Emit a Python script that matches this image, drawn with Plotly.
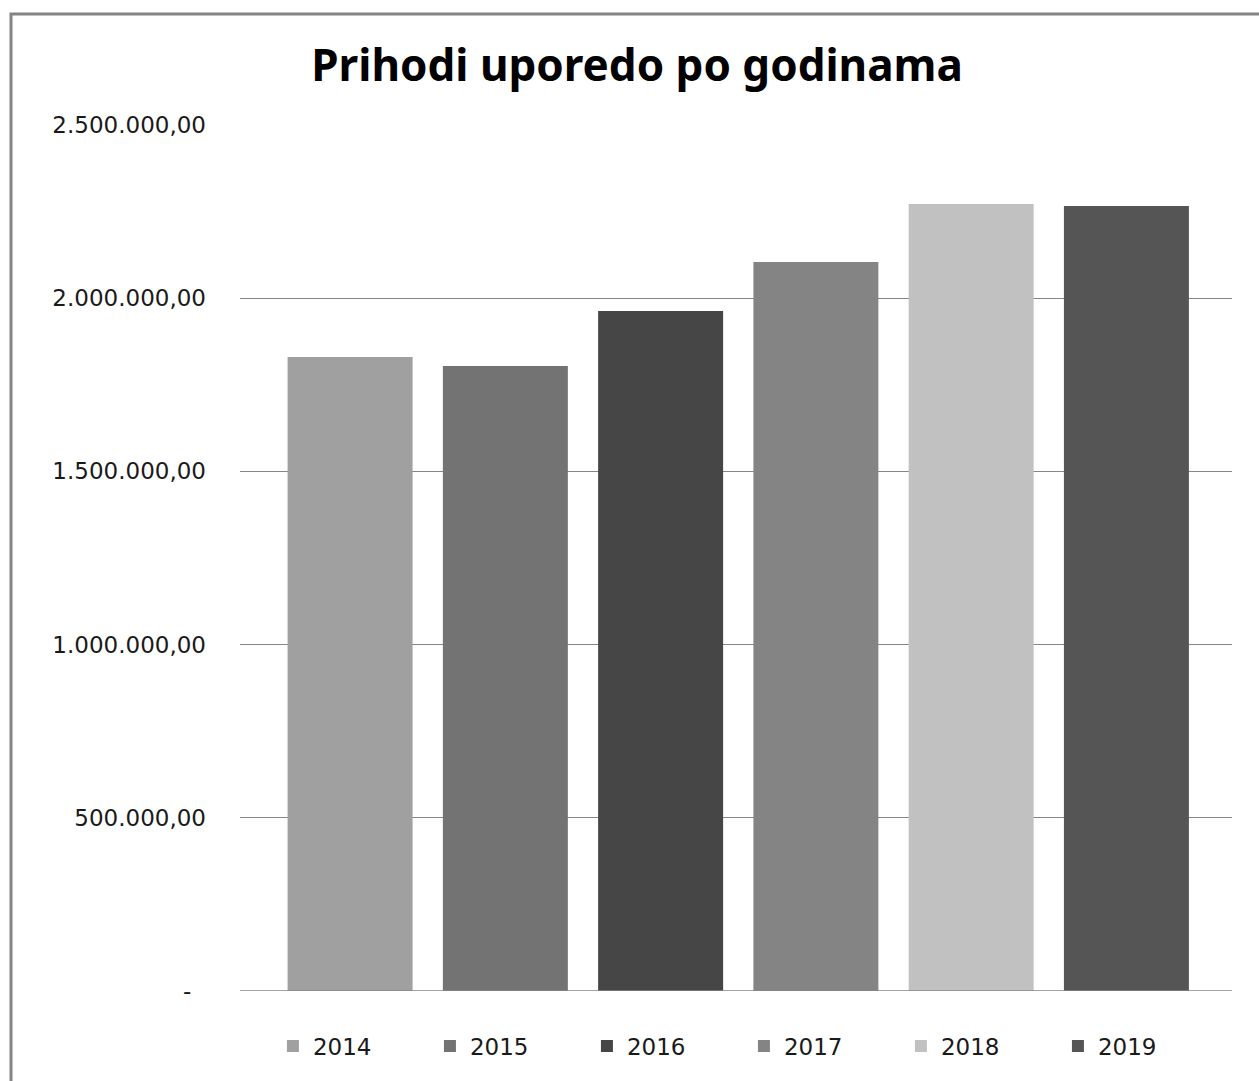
import plotly.graph_objects as go

# Data
years = ["2014", "2015", "2016", "2017", "2018", "2019"]
prihodi = [1830000, 1804000, 1963000, 2104500, 2272000, 2266000]
bar_colors = ["#A0A0A0", "#737373", "#464646", "#848484", "#C1C1C1", "#555555"]

tick_vals = [0, 500000, 1000000, 1500000, 2000000, 2500000]
tick_labels = ["-\u00a0\u00a0", "500.000,00", "1.000.000,00", "1.500.000,00",
               "2.000.000,00", "2.500.000,00"]

W, H = 1259, 1081
L, R, T, B = 240, 27, 125, 90
plot_w = W - L - R
plot_h = H - T - B

fig = go.Figure()
for yr, val, col in zip(years, prihodi, bar_colors):
    fig.add_trace(go.Bar(
        x=[yr], y=[val], name=yr,
        marker=dict(color=col, line=dict(width=0)),
        width=0.805,
    ))

# grey frame around the whole chart (only left/top visible in the reference)
def px_x(p):
    return (p - L) / plot_w

def px_y(p):
    return (H - B - p) / plot_h

fig.add_shape(type="rect", xref="paper", yref="paper",
              x0=px_x(11), x1=px_x(1300), y0=px_y(1120), y1=px_y(14),
              line=dict(color="#858585", width=3), fillcolor="rgba(0,0,0,0)",
              layer="above")

fig.update_layout(
    width=W, height=H,
    margin=dict(l=L, r=R, t=T, b=B, autoexpand=False),
    paper_bgcolor="white",
    plot_bgcolor="white",
    barmode="overlay",
    font=dict(family="DejaVu Sans", size=23, color="#1a1a1a"),
    title=dict(text="<b>Prihodi uporedo po godinama</b>",
               font=dict(family="Noto Sans", size=44, color="#000000"),
               x=0.506, xanchor="center", y=1 - 66 / H, yanchor="middle"),
    xaxis=dict(type="category", range=[-0.709, 5.68],
               showticklabels=False, showgrid=False, zeroline=False,
               showline=False, ticks=""),
    yaxis=dict(range=[0, 2500000], tickvals=tick_vals, ticktext=tick_labels,
               showgrid=True, gridcolor="#868686", gridwidth=1,
               zeroline=False, showline=False, ticks="",
               ticklabelstandoff=33,
               tickfont=dict(family="DejaVu Sans", size=23, color="#1a1a1a")),
    showlegend=True,
    legend=dict(orientation="h", x=0.508, xanchor="center",
                y=px_y(1046), yanchor="middle",
                entrywidth=112, entrywidthmode="pixels",
                font=dict(family="DejaVu Sans", size=23, color="#1a1a1a"),
                itemsizing="constant", traceorder="normal"),
)
# baseline
fig.add_hline(y=0, line=dict(color="#868686", width=1.5))

fig.write_html("out.html", config={"displayModeBar": False},
               post_script="document.body.style.margin='0';")
